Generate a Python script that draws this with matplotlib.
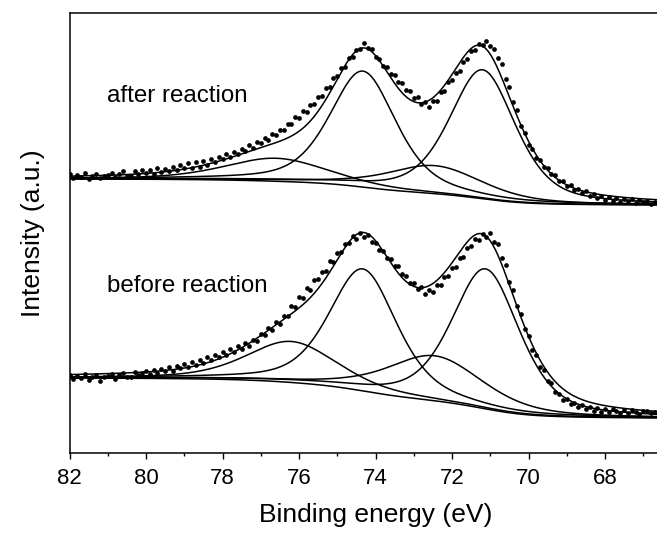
import numpy as np
import matplotlib.pyplot as plt

plt.rcParams['font.family'] = ['Liberation Sans', 'DejaVu Sans']

# measured spectra, 0.1 eV steps from 82.0 down to 66.7 eV
energy = np.round(np.arange(82.0, 66.65, -0.1), 1)

after_counts = [
    279, 275, 278, 276, 280, 274, 277, 279, 275, 277, 278,
    280, 276, 279, 282, 277, 277, 282, 279, 283, 280,
    283, 279, 285, 281, 284, 282, 286, 283, 288, 285,
    290, 285, 291, 286, 292, 288, 294, 291, 296, 294,
    299, 296, 301, 299, 304, 302, 308, 305, 311, 310,
    315, 313, 319, 318, 323, 323, 329, 329, 336, 335,
    342, 341, 348, 349, 356, 357, 365, 366, 375, 377,
    385, 386, 395, 396, 403, 404, 410, 405, 404, 396,
    394, 387, 386, 379, 378, 371, 370, 363, 362, 355,
    356, 349, 351, 346, 352, 352, 361, 362, 371, 373,
    380, 382, 391, 394, 402, 403, 409, 408, 412, 407,
    404, 395, 389, 374, 366, 351, 343, 327, 320, 308,
    304, 295, 293, 286, 285, 279, 278, 272, 272, 267,
    268, 263, 264, 260, 262, 257, 259, 255, 257, 253,
    256, 252, 255, 251, 254, 252, 254, 250, 253, 251,
    252, 249, 251,
]

before_counts = [
    78, 74, 77, 75, 79, 73, 76, 78, 72, 76, 77,
    79, 74, 78, 80, 76, 76, 81, 78, 80, 82,
    79, 83, 80, 84, 82, 86, 82, 87, 85, 89,
    86, 91, 88, 93, 90, 96, 93, 98, 96, 101,
    98, 104, 101, 107, 104, 110, 107, 113, 112, 119,
    118, 125, 123, 131, 129, 137, 137, 147, 146, 156,
    155, 165, 163, 173, 174, 181, 182, 192, 191, 200,
    201, 209, 210, 217, 214, 220, 216, 218, 211, 210,
    203, 202, 195, 194, 187, 187, 179, 177, 170, 170,
    164, 166, 159, 163, 161, 168, 168, 176, 177, 185,
    186, 195, 196, 205, 207, 214, 213, 219, 216, 220,
    211, 209, 195, 188, 171, 163, 147, 139, 124, 117,
    103, 98, 86, 83, 72, 70, 61, 59, 53, 54,
    49, 50, 46, 48, 44, 46, 42, 45, 41, 44,
    41, 44, 42, 40, 43, 40, 43, 41, 39, 42,
    42, 40, 41,
]

# fitted components (centre eV, height, FWHM eV) and background ends
after_centres = [76.6, 74.33, 72.45, 71.2]
after_heights = [23, 116, 28, 129]
after_fwhm = [3.2, 2.05, 3.0, 2.05]
after_bg = [274, 248]

before_centres = [76.2, 74.33, 72.45, 71.12]
before_heights = [41, 122, 45, 140]
before_fwhm = [2.8, 2.1, 3.0, 2.1]
before_bg = [75, 35]

eta = 0.5


def pseudo_voigt(x, c, h, w):
    g = np.exp(-4 * np.log(2) * (x - c) ** 2 / w ** 2)
    l = 1 / (1 + 4 * (x - c) ** 2 / w ** 2)
    return h * ((1 - eta) * g + eta * l)


def fit_curves(x, centres, heights, fwhm, bg):
    peaks = [pseudo_voigt(x, c, h, w) for c, h, w in zip(centres, heights, fwhm)]
    total = np.sum(peaks, axis=0)
    cum = np.cumsum(total[::-1])[::-1]
    background = bg[1] + (bg[0] - bg[1]) * cum / cum[0]
    return background, peaks


def plot_spectrum(ax, counts, centres, heights, fwhm, bg):
    x = np.linspace(82, 66.5, 800)
    background, peaks = fit_curves(x, centres, heights, fwhm, bg)
    ax.plot(energy, counts, 'o', color='black', ms=3.4, mew=0)
    ax.plot(x, background + np.sum(peaks, axis=0), color='black', lw=1.1)
    for p in peaks:
        ax.plot(x, background + p, color='black', lw=1.1)
    ax.plot(x, background, color='black', lw=1.1)


fig = plt.figure(figsize=(6.57, 5.34), dpi=100)
ax = fig.add_axes([69.5 / 657, 81 / 534, 612 / 657, 440 / 534])

plot_spectrum(ax, after_counts, after_centres, after_heights, after_fwhm, after_bg)
plot_spectrum(ax, before_counts, before_centres, before_heights, before_fwhm, before_bg)

ax.text(81.02, 351, 'after reaction', fontsize=17.4, va='baseline')
ax.text(81.02, 161, 'before reaction', fontsize=17.4, va='baseline')

ax.set_xlim(82, 66)
ax.set_ylim(0, 440)
ax.set_xticks(np.arange(82, 67, -2))
ax.set_xticks(np.arange(81, 66, -2), minor=True)
ax.set_yticks([])
ax.tick_params(axis='x', which='major', direction='out', length=4.5, width=1, labelsize=16, pad=6.5)
ax.tick_params(axis='x', which='minor', direction='out', length=2.5, width=1)
for s in ax.spines.values():
    s.set_linewidth(1.1)

ax.set_xlabel('Binding energy (eV)', fontsize=19, labelpad=10)
ax.set_ylabel('Intensity (a.u.)', fontsize=19)
ax.yaxis.set_label_coords(-0.04, 0.5)

fig.savefig('out.png', dpi=100)
